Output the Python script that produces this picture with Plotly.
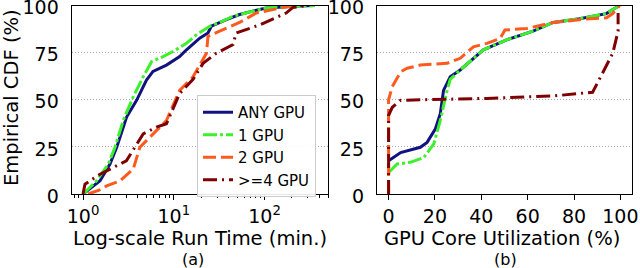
import plotly.graph_objects as go

# ---------------- data: (a) run time CDF ----------------
any_rt_x = [1.0, 1.2, 1.54, 1.98, 2.35, 3.02, 3.89, 5.0, 5.9, 8.3, 11.6, 13.8, 19.3, 23.8, 25.9, 38, 53, 74, 104, 243, 355]
any_rt_y = [0, 3, 7, 15.9, 24.8, 40.8, 49.7, 60.4, 65, 68.4, 72.9, 76.5, 82.7, 85.4, 89, 92.5, 95.2, 97, 98.7, 99.8, 100]

g1_rt_x = [1.0, 1.41, 1.90, 2.25, 2.77, 3.57, 4.6, 5.69, 7.6, 9.8, 13.8, 17.8, 24.9, 32, 45, 74, 104, 243, 355]
g1_rt_y = [0, 7, 15.9, 24.8, 39, 51.5, 62.2, 70.2, 72.9, 75.6, 80, 84.5, 89, 91, 94.3, 97, 98.7, 99.8, 100]

g2_rt_x = [1.14, 1.5, 1.82, 2.55, 3.57, 4.23, 5.93, 8.3, 11.6, 16.3, 22.9, 23.8, 32, 53, 81, 204]
g2_rt_y = [0, 2, 4.3, 7, 13.2, 24.8, 31.9, 39, 55, 62.2, 74.7, 83.6, 86.4, 91, 96, 100]

g4_rt_x = [1.0, 1.05, 1.54, 2.15, 3.0, 4.6, 6.45, 8.3, 11.6, 16.3, 21, 29.4, 45, 48.6, 88, 173, 204, 300]
g4_rt_y = [0, 5.2, 10.5, 14, 17.6, 31.9, 35.5, 37.3, 53.3, 60.8, 69.3, 74.7, 79.3, 85.4, 89.7, 96, 98.9, 100]

# ---------------- data: (b) GPU core utilization CDF ----------------
any_ut_x = [0, 5.2, 13.7, 16.6, 20.2, 22.3, 23.7, 26.6, 30.9, 40.9, 50.9, 62.3, 71, 82.4, 93.9, 99.6]
any_ut_y = [17.6, 22, 24.8, 27.4, 34.6, 42.6, 55, 62.2, 65.8, 76.5, 81.8, 86.4, 91, 93, 95.7, 100]

g1_ut_x = [0, 3.7, 9.4, 15.2, 19.5, 22.3, 24.9, 26.6, 30.9, 40.9, 50.9, 62.3, 71, 82.4, 93.9, 99.6]
g1_ut_y = [11.4, 15.9, 16.8, 19.4, 26.6, 39, 53.3, 60.8, 65.8, 76.5, 81.8, 86.4, 91, 93, 95.7, 100]

g2_ut_x = [0, 0, 1.6, 5.2, 8, 13.7, 25.2, 30.9, 36.6, 42.4, 48.1, 50.2, 59.5, 71, 86.8, 94, 96.7, 99.6]
g2_ut_y = [0, 50, 57, 64.8, 66.7, 68.4, 69.3, 72, 78.1, 79.9, 82.5, 87, 87.8, 91, 93, 93.5, 95.7, 100]

g4_ut_x = [0, 0, 1.6, 5.2, 13.7, 42.4, 71, 88, 90.9, 96.7, 99, 99]
g4_ut_y = [0, 41.7, 46, 49.7, 50, 50.7, 52, 54, 60.8, 74.7, 86.4, 96]

y_ticks = [0, 25, 50, 75, 100]
util_ticks = [0, 20, 40, 60, 80, 100]
rt_ticks = [1, 10, 100]
rt_tick_text = ["10<sup>0</sup>", "10<sup>1</sup>", "10<sup>2</sup>"]

series = [
    ("ANY GPU", "#12127f", "solid", any_rt_x, any_rt_y, any_ut_x, any_ut_y),
    ("1 GPU", "#3cf02c", "14px,3px,3px,3px", g1_rt_x, g1_rt_y, g1_ut_x, g1_ut_y),
    ("2 GPU", "#ff5a1e", "13px,5px", g2_rt_x, g2_rt_y, g2_ut_x, g2_ut_y),
    (">=4 GPU", "#7f0000", "14px,5px,2px,5px", g4_rt_x, g4_rt_y, g4_ut_x, g4_ut_y),
]

FONT = "DejaVu Sans"
W, H = 640, 268
fig = go.Figure()
for name, color, dash, rx, ry, ux, uy in series:
    fig.add_trace(go.Scatter(x=rx, y=ry, mode="lines", name=name,
                             line=dict(color=color, width=3, dash=dash),
                             xaxis="x", yaxis="y"))
    fig.add_trace(go.Scatter(x=ux, y=uy, mode="lines", name=name, showlegend=False,
                             line=dict(color=color, width=3, dash=dash),
                             xaxis="x2", yaxis="y2"))

ydom = [(H - 194) / H, (H - 5.5) / H]
common_y = dict(range=[0, 100], tickvals=y_ticks, showgrid=True,
                gridcolor="#a8a8a8", griddash="1px,2px", gridwidth=1,
                showline=True, linecolor="black", linewidth=1.3, mirror=True,
                ticks="", ticklabelstandoff=8, ticklabelshift=2, zeroline=False,
                ticklabeloverflow="allow",
                automargin=False, tickfont=dict(size=19, color="black"))
common_x = dict(ticks="outside", ticklen=5, tickcolor="black", showgrid=False,
                showline=True, linecolor="black", linewidth=1.3, mirror=True,
                zeroline=False, ticklabeloverflow="allow", automargin=False,
                tickfont=dict(size=19, color="black"))


def px(x, y):
    return x / W, (H - y) / H


def label(text, x, y, size, angle=0):
    ax, ay = px(x, y)
    return dict(text=text, x=ax, y=ay, xref="paper", yref="paper", showarrow=False,
                textangle=angle, font=dict(size=size, color="black"),
                xanchor="center", yanchor="middle")


fig.update_layout(
    width=W, height=H,
    margin=dict(l=0, r=0, t=0, b=0),
    paper_bgcolor="white", plot_bgcolor="white",
    font=dict(family=FONT, size=19, color="black"),
    xaxis=dict(type="log", range=[-0.125, 2.699], domain=[71.7 / W, 328 / W],
               tickvals=rt_ticks, ticktext=rt_tick_text,
               minor=dict(ticks="outside", ticklen=3, tickcolor="black", dtick="D1", showgrid=False),
               anchor="y", **common_x),
    yaxis=dict(domain=ydom, anchor="x", **common_y),
    xaxis2=dict(range=[-5, 105], domain=[377 / W, 632 / W], tickvals=util_ticks,
                anchor="y2", **common_x),
    yaxis2=dict(domain=ydom, anchor="x2", **common_y),
    legend=dict(x=197 / W, y=(H - 95) / H, xanchor="left", yanchor="top",
                bordercolor="#cccccc", borderwidth=1, bgcolor="rgba(255,255,255,0.9)",
                font=dict(size=15, color="black"), itemwidth=30, tracegroupgap=0),
    annotations=[
        label("Empirical CDF (%)", 12, 98, 19.5, -90),
        label("Log-scale Run Time (min.)", 200, 238, 19.5),
        label("GPU Core Utilization (%)", 502, 238, 19.5),
        label("(a)", 193, 259, 16),
        label("(b)", 505, 259, 16),
    ],
)

fig.write_html("out.html", config={"displayModeBar": False},
               post_script="document.body.style.margin='0';document.body.style.overflow='hidden';")
